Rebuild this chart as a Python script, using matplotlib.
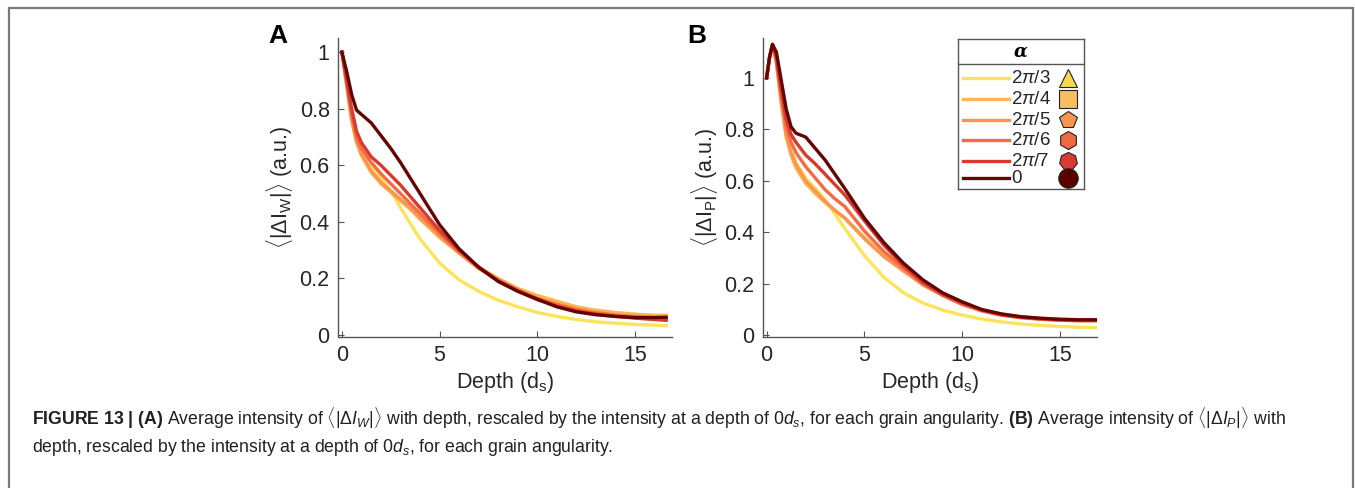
import numpy as np
import matplotlib
matplotlib.use("Agg")
import matplotlib.pyplot as plt
from matplotlib.patches import Rectangle

plt.rcParams['font.family'] = ['Liberation Sans', 'DejaVu Sans']
plt.rcParams['mathtext.fontset'] = 'custom'
plt.rcParams['mathtext.rm'] = 'Liberation Sans'
plt.rcParams['mathtext.it'] = 'Liberation Sans:italic'
plt.rcParams['mathtext.bf'] = 'Liberation Sans:bold'

# angularity labels and colours
alpha_labels = [r'2$\pi$/3', r'2$\pi$/4', r'2$\pi$/5', r'2$\pi$/6', r'2$\pi$/7', '0']
line_colors = ['#fde35a', '#fcb64c', '#fc9552', '#f66a44', '#d83a2c', '#650404']
marker_fill = ['#f5d84e', '#f8bd5e', '#f99550', '#ef6a40', '#d63c30', '#5a0000']
markers = ['^', 's', 'p', 'h', (7, 0, 0), 'o']

# panel A : <|dI_W|> vs depth
depth_a = [0, 0.25, 0.5, 0.75, 1, 1.5, 2, 2.5, 3, 3.5, 4, 5, 6, 7, 8, 9, 10,
           11, 12, 13, 14, 15, 16, 16.6]
iw_3 = [1.0, 0.90, 0.79, 0.71, 0.66, 0.60, 0.555, 0.51, 0.45, 0.395, 0.34, 0.255,
        0.195, 0.155, 0.123, 0.10, 0.080, 0.066, 0.055, 0.047, 0.042, 0.038, 0.035, 0.033]
iw_4 = [1.0, 0.88, 0.76, 0.68, 0.635, 0.575, 0.535, 0.505, 0.475, 0.445, 0.41, 0.345,
        0.29, 0.24, 0.20, 0.165, 0.14, 0.12, 0.10, 0.088, 0.08, 0.074, 0.07, 0.07]
iw_5 = [1.0, 0.88, 0.76, 0.685, 0.64, 0.58, 0.54, 0.51, 0.48, 0.45, 0.415, 0.35,
        0.29, 0.235, 0.195, 0.16, 0.13, 0.11, 0.092, 0.080, 0.072, 0.067, 0.062, 0.06]
iw_6 = [1.0, 0.89, 0.78, 0.70, 0.66, 0.61, 0.57, 0.535, 0.50, 0.465, 0.43, 0.36,
        0.295, 0.24, 0.195, 0.16, 0.13, 0.108, 0.09, 0.078, 0.07, 0.064, 0.06, 0.058]
iw_7 = [1.0, 0.90, 0.80, 0.72, 0.68, 0.63, 0.60, 0.565, 0.53, 0.49, 0.45, 0.37,
        0.30, 0.24, 0.19, 0.155, 0.125, 0.102, 0.085, 0.074, 0.066, 0.06, 0.055, 0.052]
iw_0 = [1.0, 0.93, 0.85, 0.795, 0.78, 0.75, 0.705, 0.66, 0.61, 0.555, 0.50, 0.39,
        0.305, 0.24, 0.19, 0.155, 0.127, 0.10, 0.082, 0.072, 0.066, 0.062, 0.062, 0.063]

# panel B : <|dI_P|> vs depth
depth_b = [0, 0.15, 0.3, 0.5, 0.75, 1, 1.25, 1.5, 2, 2.5, 3, 3.5, 4, 5, 6, 7, 8,
           9, 10, 11, 12, 13, 14, 15, 16, 16.9]
ip_3 = [1.0, 1.08, 1.13, 1.07, 0.92, 0.79, 0.72, 0.67, 0.61, 0.57, 0.525, 0.47, 0.415,
        0.31, 0.225, 0.165, 0.125, 0.098, 0.078, 0.063, 0.052, 0.044, 0.038, 0.034, 0.031, 0.029]
ip_4 = [1.0, 1.08, 1.13, 1.06, 0.90, 0.77, 0.70, 0.65, 0.59, 0.55, 0.515, 0.485, 0.455,
        0.38, 0.31, 0.25, 0.20, 0.16, 0.125, 0.10, 0.082, 0.072, 0.066, 0.062, 0.06, 0.06]
ip_5 = [1.0, 1.08, 1.13, 1.06, 0.91, 0.78, 0.71, 0.665, 0.60, 0.56, 0.52, 0.485, 0.455,
        0.375, 0.305, 0.25, 0.195, 0.155, 0.12, 0.095, 0.079, 0.069, 0.063, 0.059, 0.057, 0.057]
ip_6 = [1.0, 1.08, 1.13, 1.07, 0.93, 0.81, 0.75, 0.71, 0.655, 0.61, 0.565, 0.53, 0.50,
        0.405, 0.325, 0.26, 0.20, 0.155, 0.12, 0.095, 0.078, 0.068, 0.062, 0.058, 0.056, 0.056]
ip_7 = [1.0, 1.08, 1.13, 1.08, 0.95, 0.84, 0.78, 0.75, 0.70, 0.665, 0.625, 0.585, 0.545,
        0.445, 0.35, 0.27, 0.205, 0.16, 0.125, 0.098, 0.08, 0.07, 0.064, 0.06, 0.058, 0.058]
ip_0 = [1.0, 1.08, 1.13, 1.10, 0.99, 0.88, 0.81, 0.785, 0.77, 0.725, 0.68, 0.625, 0.57,
        0.455, 0.36, 0.28, 0.215, 0.165, 0.13, 0.10, 0.083, 0.072, 0.066, 0.062, 0.06, 0.06]

series_a = [iw_3, iw_4, iw_5, iw_6, iw_7, iw_0]
series_b = [ip_3, ip_4, ip_5, ip_6, ip_7, ip_0]

W, H = 1355, 488
fig = plt.figure(figsize=(W / 100, H / 100), dpi=100)

# outer frame
fig.patches.append(Rectangle((9 / W, -0.02), (1353 - 9) / W, 1 - 8 / H + 0.02,
                             transform=fig.transFigure, fill=False,
                             edgecolor='#7a7a7a', lw=1.6))

tick_col = '#262626'


def setup(ax, ylim, ylabel):
    ax.set_xlim(-0.2, 16.9)
    ax.set_ylim(*ylim)
    ax.set_xticks([0, 5, 10, 15])
    ax.set_yticks([0, 0.2, 0.4, 0.6, 0.8, 1])
    ax.set_yticklabels(['0', '0.2', '0.4', '0.6', '0.8', '1'])
    for s in ['top', 'right']:
        ax.spines[s].set_visible(False)
    for s in ['left', 'bottom']:
        ax.spines[s].set_color('#555555')
        ax.spines[s].set_linewidth(1.0)
    ax.tick_params(direction='in', length=4, width=0.8, color='#555555',
                   labelsize=15.5, labelcolor=tick_col, pad=6)
    ax.set_xlabel(r'Depth (d$_\mathregular{s}$)', fontsize=15.5, color=tick_col, labelpad=3)
    ax.set_ylabel(ylabel, fontsize=15.5, color=tick_col, labelpad=3)


ax_a = fig.add_axes([338 / W, 1 - 336.5 / H, (672 - 338) / W, (336.5 - 38) / H])
for ys, c in zip(series_a, line_colors):
    ax_a.plot(depth_a, ys, color=c, lw=2.4, solid_joinstyle='round')
setup(ax_a, (-0.005, 1.05), r'$\langle|\Delta\mathregular{I_W}|\rangle$ (a.u.)')

ax_b = fig.add_axes([762.7 / W, 1 - 336.5 / H, (1097 - 762.7) / W, (336.5 - 38) / H])
for ys, c in zip(series_b, line_colors):
    ax_b.plot(depth_b, ys, color=c, lw=2.4, solid_joinstyle='round')
setup(ax_b, (-0.005, 1.155), r'$\langle|\Delta\mathregular{I_P}|\rangle$ (a.u.)')

fig.text(278 / W, 1 - 36 / H, 'A', fontsize=19, fontweight='bold', ha='center', va='center')
fig.text(697 / W, 1 - 36 / H, 'B', fontsize=19, fontweight='bold', ha='center', va='center')

# legend box
lg = fig.add_axes([958 / W, 1 - 189 / H, 126 / W, 150 / H])
lg.set_xlim(0, 126)
lg.set_ylim(150, 0)
lg.set_xticks([])
lg.set_yticks([])
for s in lg.spines.values():
    s.set_color('#555555')
    s.set_linewidth(1.0)
lg.axhline(25, color='#555555', lw=1.0)
lg.text(63, 13, 'α', ha='center', va='center', fontsize=13,
        fontstyle='italic', fontweight='bold', family='DejaVu Serif')
row_y = [39, 60, 81, 101, 122, 139]
for y, lab, c, fc, m in zip(row_y, alpha_labels, line_colors, marker_fill, markers):
    lg.plot([5, 51], [y, y], color=c, lw=2.4)
    lg.text(53, y, lab, ha='left', va='center', fontsize=13.5, color=tick_col)
    lg.plot([110], [y], marker=m, ms=13 if m != 'o' else 14, mfc=fc, mec='#222222', mew=0.8,
            linestyle='none')

# caption
cap1 = (r'$\mathbf{FIGURE\ 13\ |\ (A)}$ Average intensity of $\langle|\Delta I_W|\rangle$ with depth, '
        r'rescaled by the intensity at a depth of 0$d_s$, for each grain angularity. '
        r'$\mathbf{(B)}$ Average intensity of $\langle|\Delta I_P|\rangle$ with')
cap2 = r'depth, rescaled by the intensity at a depth of 0$d_s$, for each grain angularity.'
fig.text(32 / W, 1 - 418 / H, cap1, fontsize=12.7, color='#231f20', va='center', ha='left')
fig.text(32 / W, 1 - 447 / H, cap2, fontsize=12.7, color='#231f20', va='center', ha='left')

fig.savefig('out.png', dpi=100)
